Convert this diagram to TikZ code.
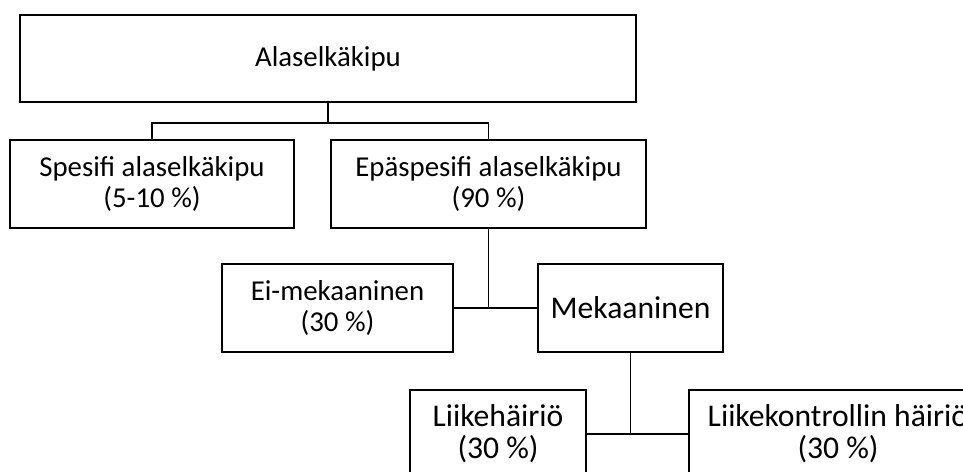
\documentclass[tikz,border=0pt]{standalone}
\usepackage{fontspec}
\setmainfont{Carlito}
\usetikzlibrary{positioning}

\begin{document}
\begin{tikzpicture}[every node/.style={font=\fontsize{20.5}{21.5}\selectfont},
    box/.style={draw, line width=1.4pt, align=center, inner sep=0pt, minimum height=2.2cm},
    big/.style={font=\fontsize{22.5}{23}\selectfont}]
        \useasboundingbox (0,0) rectangle (24.075,-11.775);

        % Level 0
        \node[box, minimum width=15.4cm, minimum height=2.175cm] (root) at (8.2,-1.4625) {Alaselkäkipu};

        % Level 1
        \node[box, minimum width=7.1cm] (spes) at (3.8,-4.6) {Spesifi alaselkäkipu\\(5-10 \%)};
        \node[box, minimum width=7.875cm] (epas) at (12.2125,-4.6) {Epäspesifi alaselkäkipu\\(90 \%)};

        \draw[line width=1.4pt] (root.south) -- ++(0,-0.5) -| (spes.north);
        \draw[line width=1.4pt] (root.south) -- ++(0,-0.5) -| (epas.north);

        % Level 2
        \node[box, minimum width=5.775cm] (eimek) at (8.4375,-7.7) {Ei-mekaaninen\\(30 \%)};
        \node[box, big, minimum width=4.625cm] (mek) at (15.7625,-7.7) {Mekaaninen};

        \draw[line width=1.4pt] (eimek.east) -- (mek.west);
        \draw[line width=1.4pt] (epas.south) -- (epas.south |- mek.west);

        % Level 3
        \node[box, big, minimum width=4.4cm] (liike) at (12.45,-10.85) {Liikehäiriö\\(30 \%)};
        \node[box, big, minimum width=7.45cm] (kontr) at (20.95,-10.85) {Liikekontrollin häiriö\\(30 \%)};

        \draw[line width=1.4pt] (liike.east) -- (kontr.west);
        \draw[line width=1.4pt] (mek.south) -- (mek.south |- kontr.west);
    \end{tikzpicture}
\end{document}
